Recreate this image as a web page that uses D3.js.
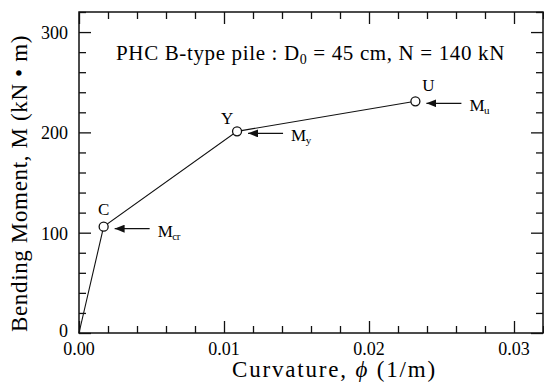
<!DOCTYPE html>
<html>
<head>
<meta charset="utf-8">
<script src="https://cdn.jsdelivr.net/npm/d3@7"></script>
<style>
  body { margin: 0; background: #fff; }
  svg { display: block; }
</style>
</head>
<body>
<div id="chart"></div>
<script>
// Moment-curvature curve of PHC pile
const curvature = [0, 0.0017, 0.0109, 0.0232];
const moment = [0, 106, 201, 231];
const pointLabels = ["", "C", "Y", "U"];
const arrowLabels = ["", ["M", "cr"], ["M", "y"], ["M", "u"]];
const xTicks = [0, 0.01, 0.02, 0.03];
const yTicks = [0, 100, 200, 300];

const width = 544, height = 389;
const margin = { top: 12, right: 1, bottom: 56, left: 79 };
const serif = "'Liberation Serif', 'Times New Roman', Times, serif";

const svg = d3.select("#chart").append("svg")
    .attr("width", width)
    .attr("height", height)
    .attr("font-family", serif)
    .attr("fill", "#000");

const x = d3.scaleLinear().domain([0, 0.032]).range([margin.left, width - margin.right]);
const y = d3.scaleLinear().domain([0, 320]).range([height - margin.bottom, margin.top]);

const minorX = d3.range(0, 0.0321, 0.002);
const minorY = d3.range(0, 321, 20);

// spread a text with letter-spacing so it spans the given width
function spread(t, w) {
    const node = t.node();
    const n = node.getNumberOfChars();
    const natural = node.getComputedTextLength();
    t.attr("letter-spacing", (w - natural) / n);
}

// frame
svg.append("rect")
    .attr("x", x(0)).attr("y", y(320))
    .attr("width", x(0.032) - x(0)).attr("height", y(0) - y(320))
    .attr("fill", "none").attr("stroke", "#111").attr("stroke-width", 1.5);

// inward ticks on all four sides
const isMajorX = v => Math.abs(v * 100 - Math.round(v * 100)) < 1e-6;
const isMajorY = v => v % 100 === 0;

function tickStyle(g, attr, len) {
    g.select(".domain").remove();
    g.selectAll(".tick text").remove();
    g.selectAll(".tick line").attr(attr, len)
        .attr("stroke", "#111").attr("stroke-width", 1.3);
}

svg.append("g").attr("transform", `translate(0,${y(0)})`)
    .call(d3.axisTop(x).tickValues(minorX).tickSizeOuter(0))
    .call(g => tickStyle(g, "y2", d => isMajorX(d) ? -12 : -7));

svg.append("g").attr("transform", `translate(0,${y(320)})`)
    .call(d3.axisBottom(x).tickValues(minorX).tickSizeOuter(0))
    .call(g => tickStyle(g, "y2", d => isMajorX(d) ? 12 : 7));

svg.append("g").attr("transform", `translate(${x(0)},0)`)
    .call(d3.axisRight(y).tickValues(minorY).tickSizeOuter(0))
    .call(g => tickStyle(g, "x2", d => isMajorY(d) ? 12 : 7));

svg.append("g").attr("transform", `translate(${x(0.032)},0)`)
    .call(d3.axisLeft(y).tickValues(minorY).tickSizeOuter(0))
    .call(g => tickStyle(g, "x2", d => isMajorY(d) ? -12 : -7));

// tick labels
svg.append("g").selectAll("text").data(xTicks).join("text")
    .attr("x", d => x(d)).attr("y", y(0) + 22)
    .attr("text-anchor", "middle")
    .attr("font-size", 18)
    .text(d => d3.format(".2f")(d));

svg.append("g").selectAll("text").data(yTicks).join("text")
    .attr("x", x(0) - 11).attr("y", d => y(d) + (d === 0 ? 4 : 7))
    .attr("text-anchor", "end")
    .attr("font-size", 18)
    .text(d => d);

// axis titles
const xt = svg.append("text")
    .attr("x", 232).attr("y", 377)
    .attr("font-size", 23);
xt.append("tspan").text("Curvature,  ");
xt.append("tspan").attr("font-style", "italic").text("ϕ");
xt.append("tspan").text("  (1/m)");
spread(xt, 205);

const yt = svg.append("g").attr("transform", "translate(27,183) rotate(-90)");
const ytt = yt.append("text")
    .attr("x", -149).attr("y", 0)
    .attr("font-size", 23)
    .text("Bending Moment, M (kN • m)");
spread(ytt, 297);

// title
const title = svg.append("text")
    .attr("x", 116).attr("y", 60)
    .attr("font-size", 21);
title.append("tspan").text("PHC B-type pile : D");
title.append("tspan").attr("dy", 4).attr("font-size", 14).text("0");
title.append("tspan").attr("dy", -4).text(" = 45 cm, N = 140 kN");
spread(title, 389);

// curve
const pts = curvature.map((c, i) => ({ c, m: moment[i], label: pointLabels[i], ann: arrowLabels[i] }));

svg.append("path")
    .datum(pts)
    .attr("fill", "none")
    .attr("stroke", "#111")
    .attr("stroke-width", 1.1)
    .attr("d", d3.line().x(d => x(d.c)).y(d => y(d.m)));

const marked = pts.filter(d => d.label);

svg.append("g").selectAll("circle").data(marked).join("circle")
    .attr("cx", d => x(d.c)).attr("cy", d => y(d.m))
    .attr("r", 4.5)
    .attr("fill", "#fff")
    .attr("stroke", "#111")
    .attr("stroke-width", 1.3);

// point letters
const letterOffset = { C: [0, -12], Y: [-10, -7], U: [13, -10] };
svg.append("g").selectAll("text").data(marked).join("text")
    .attr("x", d => x(d.c) + letterOffset[d.label][0])
    .attr("y", d => y(d.m) + letterOffset[d.label][1])
    .attr("text-anchor", "middle")
    .attr("font-size", 17)
    .text(d => d.label);

// arrows with M labels
svg.append("defs").append("marker")
    .attr("id", "head")
    .attr("viewBox", "0 0 10 8")
    .attr("refX", 0).attr("refY", 4)
    .attr("markerWidth", 10).attr("markerHeight", 8)
    .attr("markerUnits", "userSpaceOnUse")
    .attr("orient", "auto")
    .append("path").attr("d", "M0,4 L10,0 L10,8 Z").attr("fill", "#111");

const ann = svg.append("g").selectAll("g").data(marked).join("g")
    .attr("transform", d => `translate(${x(d.c)},${y(d.m) + 2})`);

ann.append("line")
    .attr("x1", 11).attr("x2", 46)
    .attr("stroke", "#111").attr("stroke-width", 1.3)
    .attr("marker-start", "url(#head)");

const annText = ann.append("text")
    .attr("x", 54).attr("y", 8)
    .attr("font-size", 17)
    .attr("letter-spacing", -0.5);
annText.append("tspan").text(d => d.ann[0]);
annText.append("tspan").attr("dy", 3).attr("font-size", 11).text(d => d.ann[1]);
</script>
</body>
</html>
